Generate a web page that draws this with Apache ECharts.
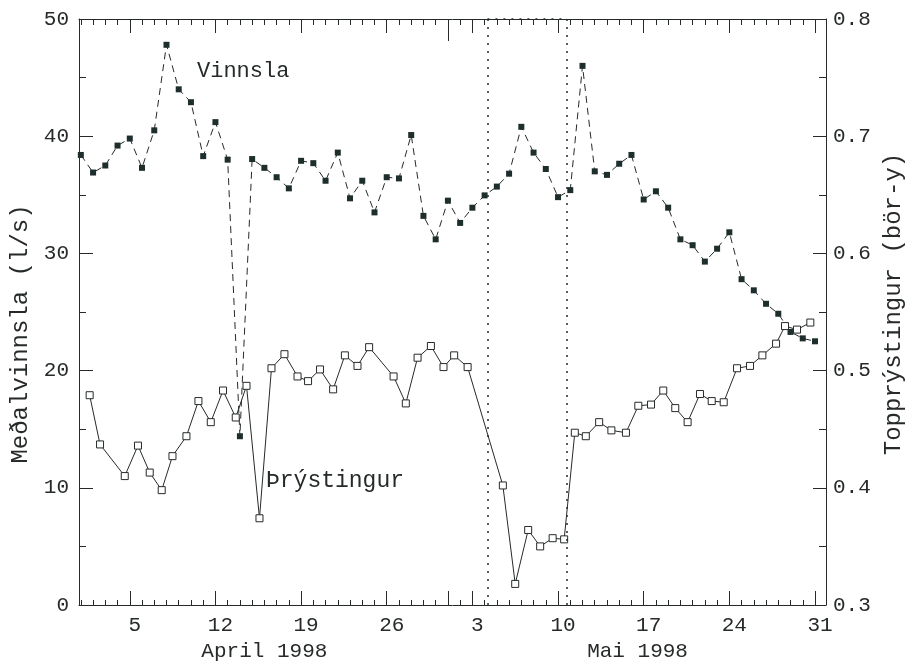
<!DOCTYPE html>
<html><head><meta charset="utf-8">
<script src="https://cdn.jsdelivr.net/npm/echarts@6/dist/echarts.min.js"></script>
<style>html,body{margin:0;padding:0;background:#fff}#c{width:907px;height:666px}</style>
</head><body><div id="c"></div>
<script>
// Day index: 1 = 1 April 1998, 31 = 1 May 1998, 61 = 31 May 1998
const vinnslaDays = [1,2,3,4,5,6,7,8,9,10,11,12,13,14,15,16,17,18,19,20,21,22,23,24,25,26,27,28,29,30,
  31,32,33,34,35,36,37,38,39,40,41,42,43,44,45,46,47,48,49,50,51,52,53,54,55,56,57,58,59,60,61];
const vinnslaValues = [38.4,36.9,37.5,39.2,39.8,37.3,40.5,47.8,44.0,42.9,38.3,41.2,38.0,14.4,38.05,37.3,36.5,35.55,37.9,37.7,
  36.2,38.6,34.7,36.2,33.5,36.5,36.4,40.1,33.2,31.2,
  34.5,32.6,33.9,34.95,35.7,36.8,40.8,38.6,37.2,34.8,35.4,46.0,37.0,36.7,37.65,38.4,34.6,35.3,33.9,31.2,
  30.7,29.3,30.4,31.8,27.8,26.85,25.7,24.85,23.3,22.75,22.5];
const pressureDays = [1.72,2.57,4.59,5.67,6.63,7.61,8.49,9.63,10.61,11.62,12.62,13.66,14.54,15.6,16.58,17.64,18.71,19.57,20.55,
  21.62,22.58,23.61,24.56,26.56,27.56,28.52,29.61,30.64,31.51,32.61,35.49,36.5,37.56,38.54,39.56,40.5,
  41.37,42.27,43.36,44.36,45.55,46.56,47.6,48.6,49.58,50.59,51.6,52.56,53.54,54.63,55.69,56.7,57.82,58.55,59.53,60.62];
const pressureValues = [0.479,0.437,0.410,0.436,0.413,0.398,0.427,0.444,0.474,0.456,0.483,0.460,0.487,0.374,0.502,0.514,0.495,0.491,0.501,
  0.484,0.513,0.504,0.520,0.495,0.472,0.511,0.521,0.503,0.513,0.503,0.402,0.318,0.364,0.350,0.357,0.356,
  0.447,0.444,0.456,0.449,0.447,0.470,0.471,0.483,0.468,0.456,0.480,0.474,0.473,0.502,0.504,0.513,0.523,0.538,0.535,0.541];
const majorTickDays = [5,12,19,26,33,40,47,54,61];
const majorTickLabels = ['5','12','19','26','3','10','17','24','31'];
const monthStartDays = [31];
const monthLabelDays = [16, 46.5];
const monthLabels = ['April 1998', 'Mai 1998'];
const markerDays = [34.23, 40.73];
const leftAxisName = 'Meðalvinnsla (l/s)';
const rightAxisName = 'Topprýstingur (bör-y)';
const seriesNames = ['Vinnsla', 'Þrýstingur'];

const FONT = '"Liberation Mono", "DejaVu Sans Mono", monospace';
const INK = '#262a2a';
const X_MIN = 0.85, X_MAX = 61.9;
const allDays = [];
for (let d = 1; d <= 61; d++) allDays.push(d);

function xAx(position, opts) {
  return Object.assign({
    type: 'value', position: position, min: X_MIN, max: X_MAX,
    axisLine: { show: false }, splitLine: { show: false },
    axisTick: { show: false }, axisLabel: { show: false }
  }, opts);
}

const xAxes = [
  xAx('bottom', {
    axisLine: { show: true, onZero: false, lineStyle: { color: INK, width: 1 } },
    axisTick: { show: true, inside: true, length: 5, customValues: allDays, lineStyle: { color: INK } },
    axisLabel: { show: true, customValues: majorTickDays, margin: 10, padding: [0, 0, 0, 10],
      fontFamily: FONT, fontSize: 21, color: INK,
      formatter: v => majorTickLabels[majorTickDays.indexOf(Math.round(v))] || '' }
  }),
  xAx('bottom', {
    axisTick: { show: true, inside: true, length: 14, customValues: majorTickDays.concat(monthStartDays), lineStyle: { color: INK } }
  }),
  xAx('bottom', {
    axisLabel: { show: true, customValues: monthLabelDays, margin: 36,
      fontFamily: FONT, fontSize: 21, color: INK,
      formatter: v => monthLabels[monthLabelDays.indexOf(v)] || '' }
  }),
  xAx('top', {
    axisLine: { show: true, onZero: false, lineStyle: { color: INK, width: 1 } },
    axisTick: { show: true, inside: true, length: 6, customValues: allDays, lineStyle: { color: INK } }
  }),
  xAx('top', {
    axisTick: { show: true, inside: true, length: 14, customValues: majorTickDays, lineStyle: { color: INK } }
  }),
  xAx('top', {
    axisTick: { show: true, inside: true, length: 22, customValues: monthStartDays, lineStyle: { color: INK } }
  })
];

const option = {
  backgroundColor: '#fff',
  animation: false,
  grid: { left: 79, right: 81, top: 19, bottom: 61, containLabel: false, outerBoundsMode: 'none' },
  xAxis: xAxes,
  yAxis: [
    {
      type: 'value', position: 'left', min: 0, max: 50, interval: 10,
      axisLine: { show: true, onZero: false, lineStyle: { color: INK, width: 1 } },
      axisTick: { show: true, inside: true, length: 14, lineStyle: { color: INK } },
      minorTick: { show: true, splitNumber: 2, length: 7, lineStyle: { color: INK } },
      splitLine: { show: false },
      axisLabel: { margin: 10, fontFamily: FONT, fontSize: 21, color: INK },
      name: leftAxisName, nameLocation: 'middle', nameGap: 45, nameRotate: 90,
      nameTextStyle: { fontFamily: FONT, fontSize: 24, color: INK, padding: [0, 0, 0, -44] }
    },
    {
      type: 'value', position: 'right', min: 0.3, max: 0.8, interval: 0.1,
      axisLine: { show: true, onZero: false, lineStyle: { color: INK, width: 1 } },
      axisTick: { show: true, inside: true, length: 13, lineStyle: { color: INK } },
      minorTick: { show: true, splitNumber: 2, length: 7, lineStyle: { color: INK } },
      splitLine: { show: false },
      axisLabel: { margin: 7, fontFamily: FONT, fontSize: 21, color: INK, formatter: v => v.toFixed(1) },
      name: rightAxisName, nameLocation: 'middle', nameGap: 50, nameRotate: 90,
      nameTextStyle: { fontFamily: FONT, fontSize: 24, color: INK, padding: [0, 0, 0, 16] }
    }
  ],
  series: [
    {
      name: seriesNames[0], type: 'line', xAxisIndex: 0, yAxisIndex: 0,
      data: vinnslaDays.map((d, i) => [d, vinnslaValues[i]]),
      symbol: 'rect', symbolSize: 6, showAllSymbol: true,
      lineStyle: { color: INK, width: 1, type: [7, 5] },
      itemStyle: { color: '#1d2e2c', borderWidth: 0 },
      z: 3
    },
    {
      name: seriesNames[1], type: 'line', xAxisIndex: 0, yAxisIndex: 1,
      data: pressureDays.map((d, i) => [d, pressureValues[i]]),
      symbol: 'rect', symbolSize: 7, showAllSymbol: true,
      lineStyle: { color: INK, width: 1 },
      itemStyle: { color: '#fff', borderColor: INK, borderWidth: 1 },
      z: 4,
      markLine: {
        silent: true, symbol: 'none', label: { show: false },
        lineStyle: { color: INK, width: 1.5, type: [2, 6] },
        data: [
          { xAxis: markerDays[0] },
          { xAxis: markerDays[1] },
          [ { coord: [markerDays[0], 0.8] }, { coord: [markerDays[1], 0.8] } ]
        ]
      }
    }
  ],
  graphic: [
    { type: 'text', left: 197, top: 60, style: { text: seriesNames[0], fontFamily: FONT, fontSize: 22, fill: INK } },
    { type: 'text', left: 266, top: 469, style: { text: seriesNames[1], fontFamily: FONT, fontSize: 23, fill: INK } }
  ]
};

const chart = echarts.init(document.getElementById('c'), null, { renderer: 'canvas' });
chart.setOption(option);
</script>
</body></html>
